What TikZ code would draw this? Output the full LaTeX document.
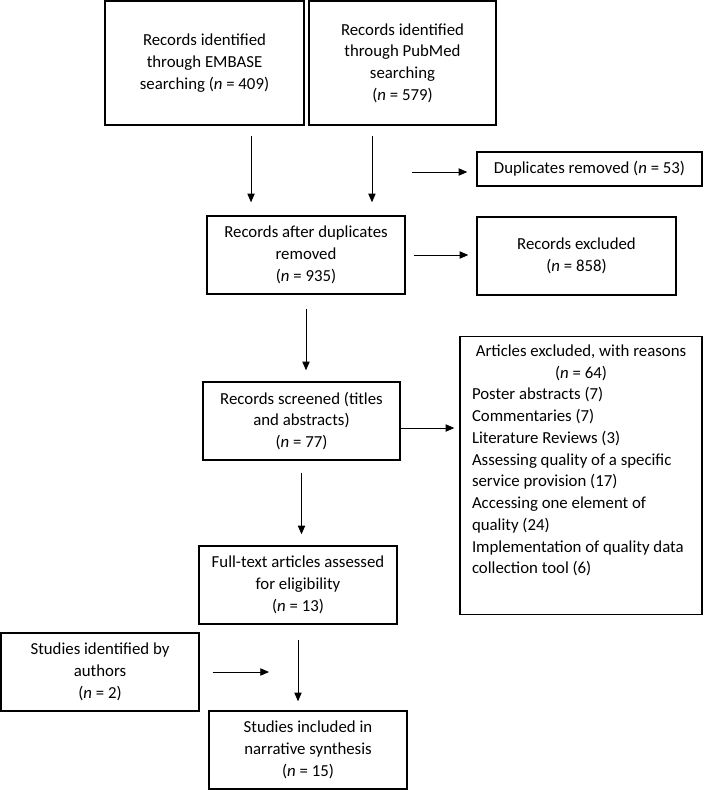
\documentclass[tikz,border=0pt]{standalone}
\usepackage{fontspec}
\setmainfont{Carlito}
\usetikzlibrary{arrows.meta,calc}

\begin{document}
\begin{tikzpicture}[x=0.75pt,y=-0.75pt,
    box/.style={draw,line width=1.1pt,align=center,inner sep=2pt,font=\fontsize{12.6}{16.3}\selectfont},
    arr/.style={-{Triangle[length=6.5pt,width=5.5pt]},line width=0.6pt}]
    \useasboundingbox (0,0) rectangle (709,790);
    % sources
    \node[box,minimum width=149.25pt,minimum height=93pt] (embase) at (204.5,63) {Records identified\\through EMBASE\\searching (\textit{n} = 409)};
    \node[box,minimum width=140.25pt,minimum height=93pt] (pubmed) at (402.5,63) {Records identified\\through PubMed\\searching\\(\textit{n} = 579)};
    \node[box,minimum width=168.75pt,minimum height=25.5pt] (dup) at (589.5,169) {Duplicates removed (\textit{n} = 53)};
    % main column
    \node[box,minimum width=148.5pt,minimum height=58.5pt] (after) at (306,255) {Records after duplicates\\removed\\(\textit{n} = 935)};
    \node[box,minimum width=149.25pt,minimum height=58.5pt] (excl) at (576.5,256) {Records excluded\\(\textit{n} = 858)};
    \node[box,minimum width=147.75pt,minimum height=58.5pt] (screen) at (301.5,421) {Records screened (titles\\and abstracts)\\(\textit{n} = 77)};
    \node[box,anchor=north,inner xsep=9pt,inner ysep=6pt] (reasons) at (581,336) {%
        \begin{minipage}[t][196.5pt][t]{163.5pt}
        {\centering Articles excluded, with reasons\\(\textit{n} = 64)\par}
        \raggedright
        Poster abstracts (7)\\
        Commentaries (7)\\
        Literature Reviews (3)\\
        Assessing quality of a specific\\
        service provision (17)\\
        Accessing one element of\\
        quality (24)\\
        Implementation of quality data\\
        collection tool (6)
        \end{minipage}};
    \node[box,minimum width=148.5pt,minimum height=58.5pt] (full) at (298,585) {Full-text articles assessed\\for eligibility\\(\textit{n} = 13)};
    \node[box,minimum width=148.5pt,minimum height=58.5pt] (authors) at (100,672) {Studies identified by\\authors\\(\textit{n} = 2)};
    \node[box,minimum width=148.5pt,minimum height=58.5pt] (incl) at (308,750) {Studies included in\\narrative synthesis\\(\textit{n} = 15)};
    \coordinate (dupfrom) at (412,172);
    % arrows
    \draw[arr,shorten <=7.5pt,shorten >=9.75pt] ([xshift=34.9pt]embase.south) -- ([xshift=34.9pt]embase.south |- after.north);
    \draw[arr,shorten <=7.5pt,shorten >=9.75pt] ([xshift=-22.9pt]pubmed.south) -- ([xshift=-22.9pt]pubmed.south |- after.north);
    \draw[arr,shorten >=6.75pt] (dupfrom) -- (dupfrom -| dup.west);
    \draw[arr,shorten <=6pt,shorten >=6pt] (after.east) -- (after.east -| excl.west);
    \draw[arr,shorten <=10.5pt,shorten >=8.25pt] (after.south) -- (after.south |- screen.north);
    \draw[arr,shorten >=3.75pt] ([yshift=-5.25pt]screen.east) -- ([yshift=-5.25pt]screen.east -| reasons.west);
    \draw[arr,shorten <=9pt,shorten >=8.25pt] (screen.south) -- (screen.south |- full.north);
    \draw[arr,shorten <=9.75pt,shorten >=21.75pt] (authors.east) -- (authors.east -| full.south);
    \draw[arr,shorten <=11.25pt,shorten >=6.75pt] (full.south) -- (full.south |- incl.north);
\end{tikzpicture}
\end{document}
